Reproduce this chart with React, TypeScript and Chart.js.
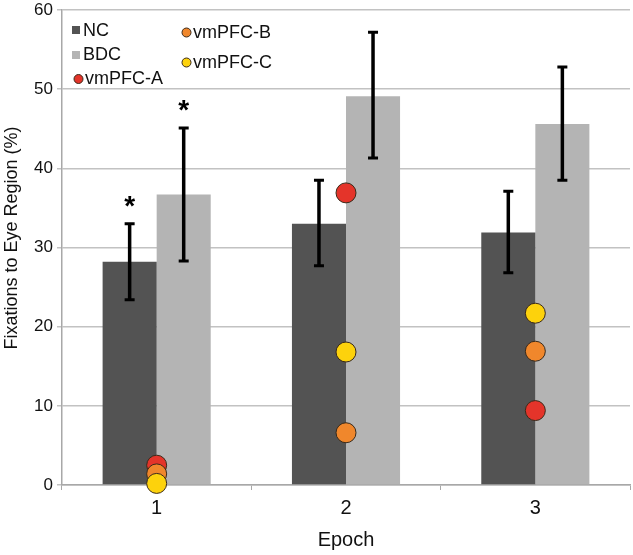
import React, { useEffect, useRef } from "react";
import { Chart, registerables } from "chart.js";

Chart.register(...registerables);

const epochs = ["1", "2", "3"];
const ncMeans = [28.2, 33.0, 31.9];
const ncLow = [23.4, 27.7, 26.8];
const ncHigh = [33.0, 38.5, 37.1];
const bdcMeans = [36.7, 49.1, 45.6];
const bdcLow = [28.3, 41.3, 38.5];
const bdcHigh = [45.1, 57.2, 52.8];
const vmpfcA = [2.5, 36.9, 9.4];
const vmpfcB = [1.4, 6.6, 16.9];
const vmpfcC = [0.2, 16.8, 21.7];
const significant = [true, false, false];
const yTitle = "Fixations to Eye Region (%)";
const xTitle = "Epoch";

const FONT = "Arial, 'Liberation Sans', Helvetica, sans-serif";
const NC_COLOR = "#535353";
const BDC_COLOR = "#b4b4b4";
const A_COLOR = "#e4342a";
const B_COLOR = "#f0872c";
const C_COLOR = "#fdd20c";
const DOT_BORDER = "#3a2a1a";

const overlayPlugin = {
  id: "overlay",
  afterDatasetsDraw(chart: any) {
    const ctx = chart.ctx;
    const yScale = chart.scales.y;
    const groups: [number, number[], number[]][] = [
      [0, ncLow, ncHigh],
      [1, bdcLow, bdcHigh],
    ];
    ctx.save();
    groups.forEach(([di, lo, hi]) => {
      const meta = chart.getDatasetMeta(di);
      meta.data.forEach((bar: any, i: number) => {
        const x = bar.x;
        const yl = yScale.getPixelForValue(lo[i]);
        const yh = yScale.getPixelForValue(hi[i]);
        ctx.strokeStyle = "#000";
        ctx.lineWidth = 3.5;
        ctx.beginPath();
        ctx.moveTo(x, yl);
        ctx.lineTo(x, yh);
        ctx.stroke();
        ctx.lineWidth = 3;
        ctx.beginPath();
        ctx.moveTo(x - 5, yl);
        ctx.lineTo(x + 5, yl);
        ctx.moveTo(x - 5, yh);
        ctx.lineTo(x + 5, yh);
        ctx.stroke();
        if (significant[i]) {
          ctx.fillStyle = "#000";
          ctx.font = `bold 28px ${FONT}`;
          ctx.textAlign = "center";
          ctx.textBaseline = "alphabetic";
          ctx.fillText("*", x, yh - 9);
        }
      });
    });
    ctx.restore();
  },
  afterDraw(chart: any) {
    const ctx = chart.ctx;
    ctx.save();
    // y axis title
    ctx.save();
    ctx.translate(12, 238);
    ctx.rotate(-Math.PI / 2);
    ctx.font = `18px ${FONT}`;
    ctx.fillStyle = "#111";
    ctx.textAlign = "center";
    ctx.textBaseline = "middle";
    ctx.fillText(yTitle, 0, 0);
    ctx.restore();
    // legend
    ctx.font = `18px ${FONT}`;
    ctx.textBaseline = "middle";
    ctx.textAlign = "left";
    const square = (x: number, y: number, color: string, label: string, tx: number, ty: number) => {
      ctx.fillStyle = color;
      ctx.fillRect(x, y, 8, 8);
      ctx.fillStyle = "#111";
      ctx.fillText(label, tx, ty);
    };
    const circle = (x: number, y: number, color: string, label: string, tx: number) => {
      ctx.beginPath();
      ctx.arc(x, y, 4.5, 0, Math.PI * 2);
      ctx.fillStyle = color;
      ctx.fill();
      ctx.lineWidth = 1;
      ctx.strokeStyle = DOT_BORDER;
      ctx.stroke();
      ctx.fillStyle = "#111";
      ctx.fillText(label, tx, y + 0.5);
    };
    square(72, 26, NC_COLOR, "NC", 83, 31);
    square(72, 51, BDC_COLOR, "BDC", 83, 55);
    circle(78.5, 79, A_COLOR, "vmPFC-A", 85);
    circle(186.5, 32.5, B_COLOR, "vmPFC-B", 193);
    circle(186.5, 62.5, C_COLOR, "vmPFC-C", 193);
    ctx.restore();
  },
};

function makeDots(label: string, data: number[], color: string, order: number) {
  return {
    type: "line" as const,
    label,
    data,
    showLine: false,
    pointRadius: 10,
    pointHoverRadius: 10,
    pointBackgroundColor: color,
    pointBorderColor: DOT_BORDER,
    pointBorderWidth: 1,
    backgroundColor: color,
    borderColor: DOT_BORDER,
    clip: false,
    order,
  };
}

export default function App() {
  const canvasRef = useRef<HTMLCanvasElement | null>(null);

  useEffect(() => {
    if (!canvasRef.current) return;
    const chart = new Chart(canvasRef.current, {
      type: "bar",
      data: {
        labels: epochs,
        datasets: [
          {
            type: "bar",
            label: "NC",
            data: ncMeans,
            backgroundColor: NC_COLOR,
            categoryPercentage: 0.571,
            barPercentage: 1,
            order: 5,
          } as any,
          {
            type: "bar",
            label: "BDC",
            data: bdcMeans,
            backgroundColor: BDC_COLOR,
            categoryPercentage: 0.571,
            barPercentage: 1,
            order: 6,
          } as any,
          makeDots("vmPFC-A", vmpfcA, A_COLOR, 3),
          makeDots("vmPFC-B", vmpfcB, B_COLOR, 2),
          makeDots("vmPFC-C", vmpfcC, C_COLOR, 1),
        ],
      },
      options: {
        animation: false,
        responsive: true,
        maintainAspectRatio: false,
        layout: { autoPadding: false, padding: { top: 10, right: 3, left: 0, bottom: 0 } },
        plugins: {
          legend: { display: false },
          tooltip: { enabled: false },
        },
        scales: {
          x: {
            afterFit: (s: any) => {
              s.height = 70;
              s.paddingLeft = 0;
              s.paddingRight = 0;
            },
            grid: {
              display: true,
              drawOnChartArea: false,
              drawTicks: true,
              tickLength: 5,
              color: "#a8a8a8",
              offset: true,
            },
            border: { display: true, color: "#a8a8a8", width: 1.5 },
            ticks: {
              color: "#111",
              font: { family: FONT, size: 20 },
              padding: 6,
            },
            title: {
              display: true,
              text: xTitle,
              color: "#111",
              font: { family: FONT, size: 20 },
              padding: { top: 0, bottom: 3 },
            },
          },
          y: {
            min: 0,
            max: 60,
            afterFit: (s: any) => {
              s.width = 62;
              s.paddingTop = 0;
              s.paddingBottom = 0;
            },
            ticks: {
              stepSize: 10,
              color: "#111",
              font: { family: FONT, size: 17 },
              padding: 4,
            },
            grid: {
              color: "#c2c2c2",
              lineWidth: 1.5,
              tickLength: 5,
              drawTicks: true,
            },
            border: { display: true, color: "#a8a8a8", width: 1.5 },
            title: { display: false },
          },
        },
      },
      plugins: [overlayPlugin],
    });
    return () => chart.destroy();
  }, []);

  return (
    <div
      style={{
        position: "fixed",
        left: 0,
        top: 0,
        width: 633,
        height: 555,
        background: "#fff",
      }}
    >
      <canvas ref={canvasRef} />
    </div>
  );
}
